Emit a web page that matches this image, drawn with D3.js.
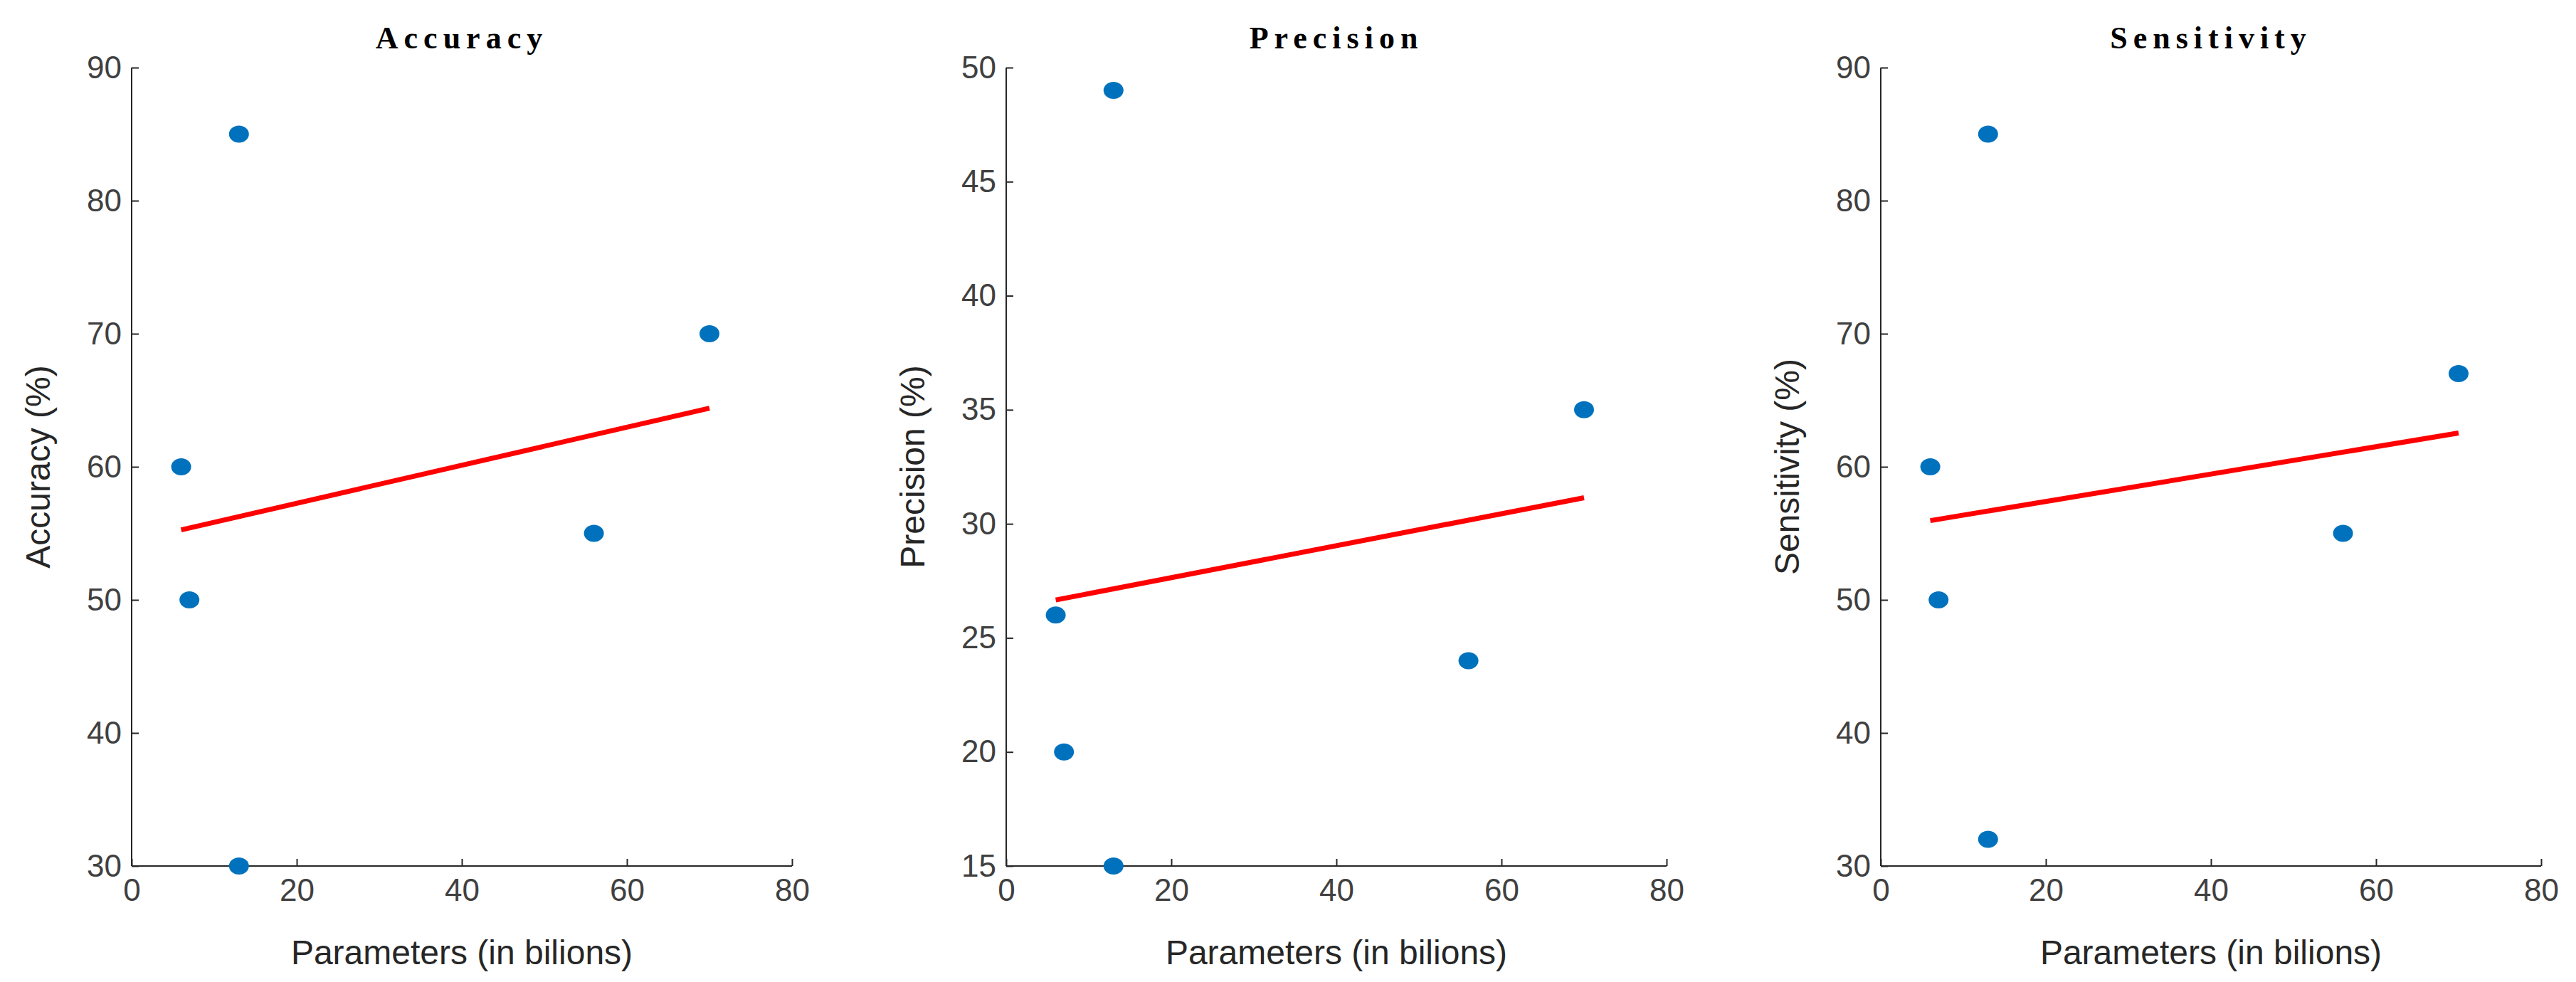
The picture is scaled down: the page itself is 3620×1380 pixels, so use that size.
<!DOCTYPE html>
<html><head><meta charset="utf-8">
<script src="https://cdn.jsdelivr.net/npm/d3@7"></script>
<style>body{margin:0;background:#fff}</style></head>
<body><svg id="c" width="3620" height="1380"></svg>
<script>
const params = [6, 7, 13, 13, 56, 70];
const accuracy = [60, 50, 85, 30, 55, 70];
const precision = [26, 20, 49, 15, 24, 35];
const sensitivity = [60, 50, 85, 32, 55, 67];
const titles = ["Accuracy", "Precision", "Sensitivity"];
const yLabels = ["Accuracy (%)", "Precision (%)", "Sensitivity (%)"];
const yDomains = [[30, 90], [15, 50], [30, 90]];
const yStep = [10, 5, 10];
const xTicks = [0, 20, 40, 60, 80];
const series = [accuracy, precision, sensitivity];

(function(){
const svg = d3.select("#c");
const lefts = [185, 1414, 2643], W = 928, plotTop = 95, plotBottom = 1217;
const font = "Liberation Sans, Arial, sans-serif";
series.forEach((ys, i) => {
  const g = svg.append("g").attr("transform", `translate(${lefts[i]},0)`);
  const x = d3.scaleLinear().domain([0, 80]).range([0, W]);
  const y = d3.scaleLinear().domain(yDomains[i]).range([plotBottom, plotTop]);
  const yt = d3.range(yDomains[i][0], yDomains[i][1] + 0.1, yStep[i]);
  const ax = g.append("g").attr("transform", `translate(0,${plotBottom})`)
    .call(d3.axisBottom(x).tickValues(xTicks).tickSize(-10).tickPadding(18));
  const ay = g.append("g").call(d3.axisLeft(y).tickValues(yt).tickSize(-10).tickPadding(14));
  [ax, ay].forEach(a => {
    a.selectAll("path,line").attr("stroke", "#262626").attr("stroke-width", 2);
    a.selectAll("text").attr("fill", "#404040").attr("font-size", 44).attr("font-family", font);
  });
  ax.select(".domain").attr("d", `M0,0H${W}`);
  ay.select(".domain").attr("d", `M0,${plotBottom}V${plotTop}`);
  const mx = d3.mean(params), my = d3.mean(ys);
  const sxy = d3.sum(params, (p, k) => (p - mx) * (ys[k] - my));
  const sxx = d3.sum(params, p => (p - mx) ** 2);
  const b = sxy / sxx, a0 = my - b * mx;
  const x0 = d3.min(params), x1 = d3.max(params);
  g.append("line").attr("x1", x(x0)).attr("y1", y(a0 + b * x0))
    .attr("x2", x(x1)).attr("y2", y(a0 + b * x1))
    .attr("stroke", "#ff0000").attr("stroke-width", 7);
  g.selectAll("ellipse").data(params).join("ellipse")
    .attr("cx", d => x(d)).attr("cy", (d, k) => y(ys[k]))
    .attr("rx", 14).attr("ry", 12).attr("fill", "#0072BD");
  g.append("text").attr("x", W / 2).attr("y", 68).attr("text-anchor", "middle")
    .attr("font-family", "Liberation Serif, serif").attr("font-weight", "bold")
    .attr("font-size", 44).attr("letter-spacing", 8).attr("fill", "#000").text(titles[i]);
  g.append("text").attr("x", W / 2).attr("y", 1355).attr("text-anchor", "middle")
    .attr("font-family", font).attr("font-size", 48).attr("fill", "#262626")
    .text("Parameters (in bilions)");
  g.append("text").attr("transform", `translate(-115,${(plotTop + plotBottom) / 2}) rotate(-90)`)
    .attr("text-anchor", "middle").attr("font-family", font).attr("font-size", 48)
    .attr("fill", "#262626").text(yLabels[i]);
});
})();
</script></body></html>
